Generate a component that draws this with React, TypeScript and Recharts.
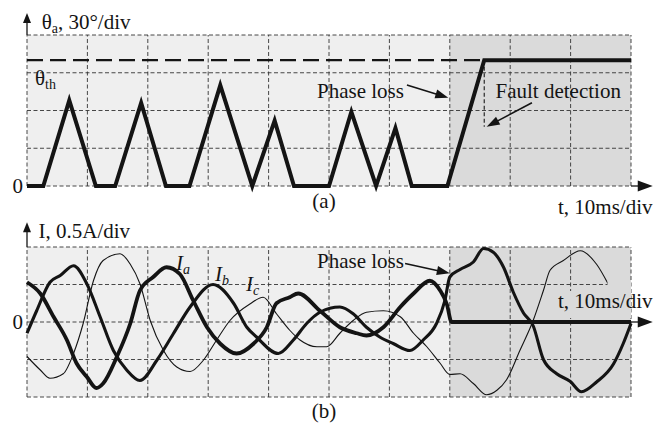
import React from "react"
import { LineChart, Line, XAxis, YAxis, ReferenceLine, ReferenceArea } from "recharts"

// time axis, ms (10 ms / div)
const xTicks = [0, 10, 20, 30, 40, 50, 60, 70, 80, 90, 100]
const phaseLossT = 70

// (a) theta_a, degrees (30 deg / div)
const thetaTicks = [0, 30, 60, 90, 120]
const thetaT = [0, 2.7, 7.0, 11.4, 14.6, 18.9, 23.0, 26.9, 32.0, 37.3, 41.0, 44.2, 50.0, 53.7, 57.8, 61.0, 63.7, 69.6, 75.7, 100]
const thetaV = [0, 0, 68, 0, 0, 66, 0, 0, 80, 0, 52, 0, 0, 59, 0, 46, 0, 0, 100, 100]
const thetaTh = 100
const faultT = 75.7

// (b) phase currents, A (0.5 A / div)
const currentTicks = [-1, -0.5, 0, 0.5, 1]
const iaT = [0, 2.2, 4.4, 6.6, 8.2, 9.9, 11.5, 12.6, 14.9, 17.1, 18.7, 20.9, 23.1, 25.3, 27.5, 29.8, 32.0, 34.7, 37.5, 39.7, 41.3, 43.5, 44.9, 48.5, 51.8, 54.6, 56.2, 59.0, 61.8, 64.0, 66.7, 68.4, 69.5, 70.3, 100]
const iaV = [0.53, 0.38, 0.07, -0.24, -0.55, -0.73, -0.88, -0.82, -0.46, -0.02, 0.42, 0.6, 0.73, 0.64, 0.29, -0.07, -0.29, -0.42, -0.29, -0.07, 0.25, 0.33, 0.38, 0.15, -0.07, -0.15, -0.18, -0.07, 0.2, 0.38, 0.55, 0.42, 0.24, 0, 0]
const ibT = [0, 1.6, 3.8, 5.5, 7.7, 9.9, 12.1, 14.3, 16.5, 18.7, 21.5, 24.2, 27.0, 30.8, 34.2, 36.4, 38.0, 41.6, 44.1, 46.3, 48.5, 51.8, 54.0, 56.2, 58.4, 60.7, 63.4, 65.6, 67.8, 69.2, 70.0, 71.7, 73.9, 75.6, 77.2, 78.9, 80.5, 82.2, 83.8, 85.5, 87.7, 89.9, 91.8, 94.3, 97.1, 98.7, 100]
const ibV = [-0.15, 0.15, 0.53, 0.62, 0.75, 0.51, 0.07, -0.38, -0.64, -0.78, -0.51, -0.16, 0.2, 0.5, 0.25, -0.07, -0.2, -0.42, -0.24, -0.02, 0.13, 0.2, 0.11, -0.07, -0.2, -0.29, -0.38, -0.24, -0.02, 0.29, 0.6, 0.7, 0.8, 0.98, 0.93, 0.73, 0.4, 0.12, -0.05, -0.5, -0.69, -0.79, -0.93, -0.8, -0.56, -0.29, -0.02]
const icT = [0, 2.2, 3.8, 6.0, 7.7, 9.3, 11.0, 12.6, 15.4, 17.1, 18.7, 20.4, 22.6, 24.8, 27.0, 29.2, 31.4, 33.6, 36.9, 39.1, 41.3, 43.5, 45.2, 48.0, 49.6, 51.8, 54.0, 56.2, 59.0, 61.8, 64.0, 66.2, 68.4, 70.0, 71.7, 73.9, 76.1, 77.8, 79.4, 81.6, 83.8, 85.5, 86.6, 88.8, 91.6, 94.3, 96.2]
const icV = [-0.46, -0.64, -0.75, -0.69, -0.42, -0.02, 0.55, 0.82, 0.91, 0.77, 0.51, 0.02, -0.38, -0.6, -0.66, -0.51, -0.24, 0.02, 0.24, 0.33, 0.11, -0.11, -0.24, -0.33, -0.33, -0.15, 0.02, 0.13, 0.15, 0.07, -0.15, -0.33, -0.55, -0.7, -0.69, -0.82, -0.97, -0.91, -0.77, -0.38, 0.02, 0.42, 0.69, 0.82, 0.95, 0.77, 0.51]

const rows = (ts: number[], vs: number[]) => ts.map((t, i) => ({ t, v: vs[i] }))

const INK = "#141414"
const GRID = "#333"
const LIGHT = "#efefef"
const DARK = "#dadada"
const FONT = "'Liberation Serif', 'Times New Roman', serif"

const arrow = (head: number, half: number, width: number) => (p: any) => {
  const { x1, y1, x2, y2 } = p
  const dx = x2 - x1
  const dy = y2 - y1
  const len = Math.hypot(dx, dy) || 1
  const ux = dx / len
  const uy = dy / len
  const bx = x2 - ux * head
  const by = y2 - uy * head
  const px = -uy * half
  const py = ux * half
  return (
    <g>
      <line x1={x1} y1={y1} x2={bx + ux} y2={by + uy} stroke={INK} strokeWidth={width} />
      <polygon points={`${x2},${y2} ${bx + px},${by + py} ${bx - px},${by - py}`} fill={INK} />
    </g>
  )
}

const axisArrow = arrow(15, 5.5, 1.3)
const noteArrow = arrow(13, 4.5, 1.6)

const W = 668
const H = 426

// shaded background + dashed division grid, drawn from the tick lists
function panelGrid(yTicks: number[]) {
  const y0 = yTicks[0]
  const y1 = yTicks[yTicks.length - 1]
  return [
    <ReferenceArea key="bgA" x1={0} x2={phaseLossT} y1={y0} y2={y1} fill={LIGHT} fillOpacity={1} stroke="none" />,
    <ReferenceArea key="bgB" x1={phaseLossT} x2={100} y1={y0} y2={y1} fill={DARK} fillOpacity={1} stroke="none" />,
    ...xTicks.map((t) => (
      <ReferenceLine key={`gx${t}`} x={t} stroke={GRID} strokeWidth={0.9} strokeDasharray="4 2.5" />
    )),
    ...yTicks.map((v) => (
      <ReferenceLine key={`gy${v}`} y={v} stroke={GRID} strokeWidth={0.9} strokeDasharray="4 2.5" />
    )),
  ]
}

function ThetaPanel() {
  return (
    <LineChart width={W} height={H} margin={{ top: 35, right: 37, bottom: 240, left: 27 }}>
      <XAxis type="number" dataKey="t" domain={[0, 100]} ticks={xTicks} tick={false} axisLine={false} tickLine={false} height={0} />
      <YAxis type="number" domain={[0, 120]} ticks={thetaTicks} tick={false} axisLine={false} tickLine={false} width={0} />
      {panelGrid(thetaTicks)}
      <ReferenceLine segment={[{ x: faultT, y: thetaTh }, { x: faultT, y: 47 }]} stroke="#1a1a1a" strokeWidth={1.1} strokeDasharray="4 2.5" ifOverflow="visible" />
      <Line data={rows([0, faultT], [thetaTh, thetaTh])} dataKey="v" stroke={INK} strokeWidth={2.3} strokeDasharray="16 7" dot={false} activeDot={false} isAnimationActive={false} />
      <Line data={rows(thetaT, thetaV)} dataKey="v" type="linear" stroke={INK} strokeWidth={4} strokeLinejoin="miter" dot={false} activeDot={false} isAnimationActive={false} />
      <ReferenceLine segment={[{ x: 0, y: 120 }, { x: 0, y: 137.5 }]} shape={arrow(10, 4, 1.3)} ifOverflow="visible" />
      <ReferenceLine segment={[{ x: 100, y: 0 }, { x: 103.6, y: 0 }]} shape={axisArrow} ifOverflow="visible" />
      <ReferenceLine segment={[{ x: 62.9, y: 80.3 }, { x: 69.75, y: 70.2 }]} shape={noteArrow} ifOverflow="visible" />
      <ReferenceLine segment={[{ x: 83.6, y: 66.2 }, { x: 76.1, y: 47.1 }]} shape={noteArrow} ifOverflow="visible" />
    </LineChart>
  )
}

function CurrentPanel() {
  return (
    <LineChart width={W} height={H} margin={{ top: 247, right: 37, bottom: 29, left: 27 }}>
      <XAxis type="number" dataKey="t" domain={[0, 100]} ticks={xTicks} tick={false} axisLine={false} tickLine={false} height={0} />
      <YAxis type="number" domain={[-1, 1]} ticks={currentTicks} tick={false} axisLine={false} tickLine={false} width={0} />
      {panelGrid(currentTicks)}
      <Line data={rows(icT, icV)} dataKey="v" type="monotone" stroke={INK} strokeWidth={1.1} dot={false} activeDot={false} isAnimationActive={false} />
      <Line data={rows(ibT, ibV)} dataKey="v" type="monotone" stroke={INK} strokeWidth={3.1} dot={false} activeDot={false} isAnimationActive={false} />
      <Line data={rows(iaT, iaV)} dataKey="v" type="monotone" stroke={INK} strokeWidth={3.8} dot={false} activeDot={false} isAnimationActive={false} />
      <ReferenceLine segment={[{ x: 0, y: 1 }, { x: 0, y: 1.33 }]} shape={arrow(10, 4, 1.3)} ifOverflow="visible" />
      <ReferenceLine segment={[{ x: 100, y: 0 }, { x: 103.6, y: 0 }]} shape={axisArrow} ifOverflow="visible" />
      <ReferenceLine segment={[{ x: 62.6, y: 0.78 }, { x: 70.0, y: 0.65 }]} shape={noteArrow} ifOverflow="visible" />
    </LineChart>
  )
}

function Labels() {
  const sub = { fontSize: 14 }
  return (
    <svg width={W} height={H} style={{ position: "absolute", left: 0, top: 0, pointerEvents: "none", fontFamily: FONT, fontSize: 21, fill: INK }}>
      {/* backing box of the lower time-axis title */}
      <rect x={607.5} y={281} width={23.5} height={37} fill={DARK} />
      <rect x={556} y={291} width={52} height={27} fill={DARK} />

      <text x={41.7} y={29}>θ<tspan {...sub} dy={4}>a</tspan><tspan dy={-4}>, 30°/div</tspan></text>
      <text x={35} y={84.5}>θ<tspan {...sub} dy={4}>th</tspan></text>
      <text x={23} y={192.5} textAnchor="end">0</text>
      <text x={317} y={97.5}>Phase loss</text>
      <text x={495.5} y={97.5}>Fault detection</text>
      <text x={324} y={208} textAnchor="middle">(a)</text>
      <text x={558} y={213.5}>t, 10ms/div</text>

      <text x={38.5} y={237.5}>I, 0.5A/div</text>
      <text x={23} y={329} textAnchor="end">0</text>
      <text x={176} y={270} fontStyle="italic">I<tspan {...sub} dy={4}>a</tspan></text>
      <text x={215} y={281} fontStyle="italic">I<tspan {...sub} dy={4}>b</tspan></text>
      <text x={246} y={291} fontStyle="italic">I<tspan {...sub} dy={4}>c</tspan></text>
      <text x={317} y={267.5}>Phase loss</text>
      <text x={558} y={308}>t, 10ms/div</text>
      <text x={324} y={418} textAnchor="middle">(b)</text>
    </svg>
  )
}

export default function App() {
  return (
    <div style={{ position: "absolute", left: 0, top: 0, width: W, height: H, background: "#fff", overflow: "hidden" }}>
      <div style={{ position: "absolute", left: 0, top: 0 }}>
        <ThetaPanel />
      </div>
      <div style={{ position: "absolute", left: 0, top: 0 }}>
        <CurrentPanel />
      </div>
      <Labels />
    </div>
  )
}
